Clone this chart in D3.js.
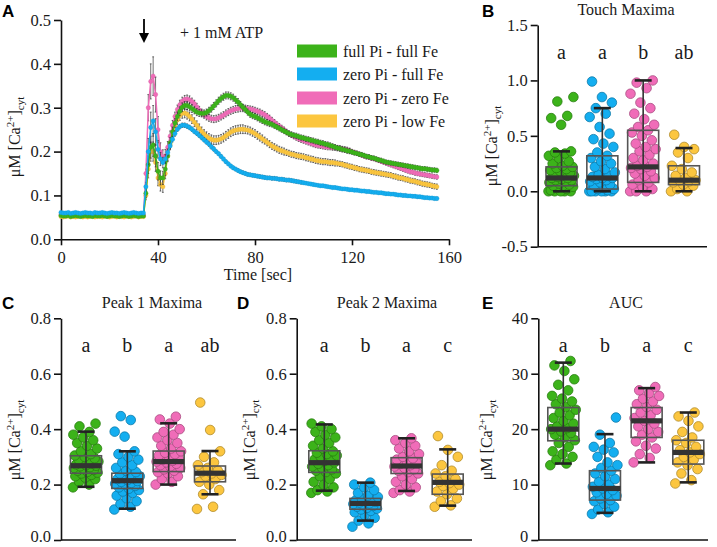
<!DOCTYPE html>
<html><head><meta charset="utf-8">
<script src="https://cdn.jsdelivr.net/npm/d3@7"></script>
<style>body{margin:0;background:#fff} svg{display:block}</style>
</head><body><svg id="chart" width="717" height="547"></svg>
<script>
// ---------------- DATA ----------------
const groups = ["full Pi - full Fe","zero Pi - full Fe","zero Pi - zero Fe","zero Pi - low Fe"];
const colors = ["#3cb31a","#14aef0","#f06cb8","#fcc63f"];
const timeSec = d3.range(0,156);
const timeTicks = [0,40,80,120,160];
const traceTicks = [0,0.1,0.2,0.3,0.4,0.5];

const traceGreen = [
.054,.053,.053,.054,.052,.053,.054,.053,.052,.053,
.054,.053,.053,.052,.054,.053,.053,.054,.053,.052,
.053,.054,.053,.053,.052,.053,.054,.053,.052,.053,
.054,.053,.052,.053,.053,.105,.17,.21,.215,.19,
.155,.14,.14,.16,.19,.22,.245,.265,.28,.292,
.301,.305,.305,.302,.298,.294,.29,.288,.287,.287,
.289,.293,.298,.304,.31,.316,.321,.325,.328,.328,
.326,.323,.318,.313,.307,.301,.296,.29,.285,.282,
.28,.277,.274,.271,.268,.266,.264,.262,.259,.256,
.253,.25,.247,.244,.241,.239,.237,.236,.234,.232,
.231,.229,.228,.226,.225,.223,.222,.22,.219,.217,
.216,.214,.212,.21,.208,.207,.205,.204,.202,.201,
.199,.197,.196,.194,.193,.191,.189,.188,.186,.185,
.183,.181,.18,.178,.176,.175,.174,.173,.172,.171,
.17,.169,.168,.167,.166,.165,.164,.163,.162,.161,
.161,.16,.159,.158,.158,.157];
const tracePink = [
.056,.055,.055,.056,.054,.055,.056,.055,.054,.055,
.056,.055,.055,.054,.056,.055,.055,.056,.055,.054,
.055,.056,.055,.055,.054,.055,.056,.055,.054,.055,
.056,.055,.054,.055,.055,.15,.3,.36,.372,.33,
.25,.2,.188,.19,.21,.235,.26,.28,.296,.307,
.315,.319,.32,.318,.314,.309,.302,.295,.289,.284,
.28,.277,.275,.274,.275,.277,.28,.283,.287,.29,
.293,.295,.297,.298,.299,.299,.299,.298,.297,.296,
.294,.292,.29,.287,.284,.28,.276,.271,.267,.262,
.258,.254,.25,.245,.241,.238,.235,.232,.229,.227,
.225,.223,.221,.219,.217,.215,.214,.213,.212,.211,
.21,.21,.209,.209,.208,.207,.206,.205,.204,.202,
.2,.198,.196,.194,.192,.19,.188,.187,.185,.184,
.182,.18,.178,.176,.174,.172,.17,.168,.166,.164,
.162,.16,.158,.156,.154,.153,.151,.15,.149,.148,
.147,.146,.145,.144,.143,.142];
const traceBlue = [
.061,.06,.06,.061,.059,.06,.061,.06,.059,.06,
.061,.06,.06,.059,.061,.06,.06,.061,.06,.059,
.06,.061,.06,.06,.059,.06,.061,.06,.059,.06,
.061,.06,.059,.06,.06,.12,.2,.255,.27,.245,
.205,.183,.175,.183,.198,.213,.228,.241,.251,.257,
.26,.26,.258,.255,.251,.246,.242,.237,.232,.227,
.222,.217,.211,.206,.2,.195,.189,.183,.177,.172,
.167,.163,.16,.157,.154,.152,.15,.148,.147,.146,
.145,.144,.143,.142,.141,.14,.14,.139,.139,.138,
.137,.137,.136,.135,.135,.134,.133,.132,.131,.13,
.129,.128,.127,.126,.125,.124,.123,.122,.122,.121,
.12,.119,.118,.118,.117,.116,.115,.115,.114,.113,
.113,.112,.112,.111,.11,.11,.109,.109,.108,.107,
.107,.106,.106,.105,.104,.104,.103,.103,.102,.101,
.101,.1,.1,.099,.099,.098,.098,.097,.097,.096,
.095,.095,.094,.094,.093,.093];
const traceYellow = [
.052,.051,.052,.053,.051,.052,.051,.052,.053,.051,
.052,.051,.052,.053,.051,.052,.052,.051,.053,.052,
.051,.052,.053,.051,.052,.052,.051,.053,.052,.051,
.052,.053,.051,.052,.052,.1,.16,.2,.2,.175,
.14,.125,.12,.15,.19,.215,.24,.258,.272,.282,
.287,.288,.285,.28,.274,.267,.26,.253,.246,.24,
.235,.231,.228,.226,.226,.227,.229,.232,.236,.24,
.244,.247,.249,.25,.251,.251,.25,.249,.247,.244,
.241,.237,.233,.229,.225,.221,.217,.213,.21,.207,
.204,.202,.2,.198,.196,.194,.193,.191,.19,.189,
.188,.186,.185,.183,.182,.18,.179,.178,.177,.177,
.176,.175,.175,.174,.173,.172,.171,.169,.168,.166,
.165,.163,.162,.16,.159,.158,.157,.156,.154,.153,
.152,.151,.15,.149,.148,.147,.146,.144,.143,.141,
.14,.139,.137,.136,.134,.133,.132,.13,.129,.127,
.126,.125,.124,.122,.121,.12];

const semGreen = [
.002,.002,.002,.002,.002,.002,.002,.002,.002,.002,
.002,.002,.002,.002,.002,.002,.002,.002,.002,.002,
.002,.002,.002,.002,.002,.002,.002,.002,.002,.002,
.002,.002,.002,.002,.002,.01,.02,.025,.026,.025,
.02,.016,.015,.015,.013,.012,.011,.01,.01,.01,
.01,.009,.009,.009,.009,.008,.008,.008,.008,.008,
.008,.008,.008,.008,.008,.008,.008,.008,.008,.008,
.008,.008,.008,.008,.007,.007,.007,.007,.007,.007,
.007,.007,.007,.007,.007,.007,.007,.006,.006,.006,
.006,.006,.006,.006,.006,.006,.006,.006,.006,.006,
.006,.006,.006,.006,.006,.006,.006,.006,.006,.006,
.006,.006,.006,.006,.006,.006,.006,.006,.006,.006,
.005,.005,.005,.005,.005,.005,.005,.005,.005,.005,
.005,.005,.005,.005,.005,.005,.005,.005,.005,.005,
.005,.005,.005,.005,.005,.005,.005,.005,.005,.005,
.005,.005,.005,.005,.005,.005];
const semPink = [
.002,.002,.002,.002,.002,.002,.002,.002,.002,.002,
.002,.002,.002,.002,.002,.002,.002,.002,.002,.002,
.002,.002,.002,.002,.002,.002,.002,.002,.002,.002,
.002,.002,.002,.002,.002,.01,.03,.04,.044,.04,
.03,.02,.016,.015,.013,.012,.011,.01,.01,.01,
.009,.009,.009,.009,.008,.008,.008,.008,.008,.008,
.008,.008,.008,.008,.008,.008,.008,.008,.008,.008,
.008,.008,.008,.008,.008,.008,.007,.007,.007,.007,
.007,.007,.007,.007,.007,.007,.007,.007,.006,.006,
.006,.006,.006,.006,.006,.006,.006,.006,.006,.006,
.006,.006,.006,.006,.006,.006,.006,.006,.006,.006,
.006,.006,.006,.006,.006,.006,.006,.006,.006,.006,
.005,.005,.005,.005,.005,.005,.005,.005,.005,.005,
.005,.005,.005,.005,.005,.005,.005,.005,.005,.005,
.005,.005,.005,.005,.005,.005,.005,.005,.005,.005,
.005,.005,.005,.005,.005,.005];
const semBlue = [
.002,.002,.002,.002,.002,.002,.002,.002,.002,.002,
.002,.002,.002,.002,.002,.002,.002,.002,.002,.002,
.002,.002,.002,.002,.002,.002,.002,.002,.002,.002,
.002,.002,.002,.002,.002,.01,.03,.035,.035,.03,
.02,.015,.012,.01,.008,.007,.006,.006,.005,.005,
.005,.005,.005,.005,.005,.005,.005,.005,.005,.005,
.005,.005,.005,.005,.004,.004,.004,.004,.004,.004,
.004,.004,.004,.004,.004,.004,.004,.004,.004,.004,
.004,.004,.004,.004,.004,.004,.004,.004,.004,.004,
.004,.004,.004,.004,.004,.004,.004,.004,.004,.004,
.003,.003,.003,.003,.003,.003,.003,.003,.003,.003,
.003,.003,.003,.003,.003,.003,.003,.003,.003,.003,
.003,.003,.003,.003,.003,.003,.003,.003,.003,.003,
.003,.003,.003,.003,.003,.003,.003,.003,.003,.003,
.003,.003,.003,.003,.003,.003,.003,.003,.003,.003,
.003,.003,.003,.003,.003,.003];
const semYellow = [
.002,.002,.002,.002,.002,.002,.002,.002,.002,.002,
.002,.002,.002,.002,.002,.002,.002,.002,.002,.002,
.002,.002,.002,.002,.002,.002,.002,.002,.002,.002,
.002,.002,.002,.002,.002,.01,.02,.022,.022,.02,
.018,.015,.013,.012,.011,.011,.011,.011,.011,.011,
.011,.011,.011,.01,.01,.01,.01,.01,.01,.01,
.01,.01,.01,.01,.01,.01,.01,.01,.01,.01,
.01,.01,.01,.01,.01,.01,.009,.009,.009,.009,
.009,.009,.009,.009,.008,.008,.008,.008,.008,.008,
.008,.008,.008,.007,.007,.007,.007,.007,.007,.007,
.007,.007,.007,.007,.007,.007,.007,.007,.007,.007,
.007,.007,.007,.007,.006,.006,.006,.006,.006,.006,
.006,.006,.006,.006,.006,.006,.006,.006,.006,.006,
.006,.006,.006,.006,.006,.006,.006,.006,.006,.006,
.006,.006,.006,.006,.006,.006,.006,.006,.006,.006,
.006,.006,.006,.006,.006,.006];

// Touch maxima (B)
const touchGreen = [0,0,0,0,0,0.01,0.02,0.03,0.04,0.05,0.05,0.06,0.07,0.08,0.09,0.1,0.1,0.11,0.12,0.12,0.13,0.14,0.15,0.16,0.17,0.18,0.19,0.2,0.21,0.22,0.23,0.25,0.27,0.3,0.32,0.34,0.35,0.36,0.6,0.66,0.68,0.81,0.85];
const touchBlue = [0,0,0,0,0,0,0.01,0.02,0.02,0.03,0.05,0.06,0.08,0.09,0.1,0.11,0.12,0.12,0.13,0.14,0.15,0.17,0.2,0.22,0.25,0.27,0.3,0.32,0.35,0.4,0.43,0.47,0.52,0.58,0.67,0.7,0.75,0.8,0.85,0.99];
const touchPink = [0,0,0,0.02,0.04,0.06,0.08,0.1,0.12,0.14,0.16,0.18,0.2,0.21,0.22,0.23,0.25,0.28,0.3,0.33,0.36,0.38,0.4,0.43,0.46,0.5,0.53,0.55,0.58,0.6,0.65,0.7,0.75,0.8,0.88,0.93,0.98,1.0];
const touchYellow = [0,0,0.02,0.05,0.06,0.08,0.09,0.1,0.1,0.12,0.14,0.17,0.2,0.23,0.3,0.35,0.38,0.4,0.51];
// [q1, median, q3, whiskerLow, whiskerHigh]
const touchStats = [[0.05,0.12,0.22,0,0.36],[0.02,0.12,0.32,0,0.75],[0.08,0.22,0.55,0,1.0],[0.06,0.1,0.23,0,0.39]];
const touchLetters = ["a","a","b","ab"];
const touchTicks = [-0.5,0,0.5,1.0,1.5];

// Peak 1 maxima (C)
const peak1Green = [0.19,0.2,0.21,0.22,0.225,0.23,0.235,0.24,0.243,0.246,0.25,0.253,0.256,0.26,0.263,0.266,0.268,0.27,0.273,0.276,0.28,0.283,0.287,0.29,0.295,0.3,0.305,0.31,0.32,0.33,0.34,0.35,0.36,0.37,0.38,0.39,0.41,0.42];
const peak1Blue = [0.11,0.12,0.13,0.14,0.15,0.16,0.17,0.175,0.18,0.185,0.19,0.195,0.2,0.203,0.206,0.21,0.213,0.216,0.22,0.223,0.226,0.23,0.235,0.24,0.245,0.25,0.26,0.27,0.28,0.29,0.3,0.31,0.32,0.373,0.391,0.433,0.447];
const peak1Pink = [0.2,0.21,0.22,0.23,0.24,0.245,0.25,0.255,0.26,0.265,0.27,0.275,0.28,0.283,0.286,0.29,0.295,0.3,0.305,0.31,0.315,0.32,0.33,0.34,0.35,0.36,0.37,0.38,0.39,0.4,0.42,0.435,0.445];
const peak1Yellow = [0.112,0.12,0.165,0.18,0.2,0.21,0.22,0.23,0.235,0.24,0.245,0.25,0.26,0.27,0.28,0.3,0.32,0.397,0.496];
const peak1Stats = [[0.241,0.268,0.304,0.192,0.391],[0.186,0.214,0.241,0.113,0.32],[0.247,0.283,0.321,0.2,0.421],[0.21,0.241,0.267,0.165,0.321]];
const peak1Letters = ["a","b","a","ab"];

// Peak 2 maxima (D)
const peak2Green = [0.17,0.175,0.18,0.19,0.2,0.21,0.22,0.23,0.24,0.245,0.25,0.255,0.26,0.265,0.27,0.275,0.28,0.285,0.29,0.295,0.3,0.305,0.31,0.315,0.32,0.33,0.34,0.35,0.36,0.37,0.38,0.39,0.4,0.41,0.42];
const peak2Blue = [0.048,0.06,0.07,0.08,0.09,0.1,0.105,0.11,0.113,0.116,0.12,0.123,0.126,0.13,0.132,0.135,0.138,0.14,0.143,0.146,0.15,0.155,0.16,0.17,0.18,0.19,0.2,0.207];
const peak2Pink = [0.17,0.175,0.18,0.19,0.2,0.21,0.22,0.23,0.24,0.245,0.25,0.255,0.26,0.265,0.27,0.275,0.28,0.285,0.29,0.295,0.3,0.31,0.32,0.33,0.34,0.35,0.36,0.367];
const peak2Yellow = [0.12,0.125,0.14,0.15,0.165,0.175,0.185,0.195,0.2,0.205,0.21,0.22,0.23,0.24,0.25,0.27,0.3,0.325,0.375];
const peak2Stats = [[0.244,0.279,0.322,0.178,0.417],[0.111,0.132,0.15,0.07,0.207],[0.24,0.267,0.297,0.177,0.367],[0.165,0.208,0.238,0.124,0.327]];
const peak2Letters = ["a","b","a","c"];
const peakTicks = [0,0.2,0.4,0.6,0.8];

// AUC (E)
const aucGreen = [13.5,13.8,14.5,15,15.5,16,16.8,17.5,18,18.5,19,19.3,19.6,20,20.2,20.5,21,21.5,22,22.5,23,23.5,24,24.5,25,25.5,26,27,28,29,30.5,31.5,32.3];
const aucBlue = [4.7,5,5.5,6,6.5,7,7.2,7.5,8,8.3,8.6,9,9.3,9.6,10,10.5,11,11.5,12,12.5,13,13.5,14,15,15.8,16.3,16.8,17.5,19,22.1];
const aucPink = [14,14.8,15.5,16.5,17,17.8,18.5,19,19.5,20,20.5,21,21.5,22,22.5,23,23.5,24,24.5,25,25.5,26,26.5,27,27.6];
const aucYellow = [10.2,10.8,12,12.8,13.5,14,14.5,15,15.5,15.8,16.2,16.8,17.5,18,18.5,19.5,20.5,21.5,22.3,23];
const aucStats = [[17.9,20,23.9,13.8,32.0],[7.2,9.3,12.5,4.9,19.1],[18.5,21.5,23.9,14,27.4],[13.7,15.8,18,10.4,23]];
const aucLetters = ["a","b","a","c"];
const aucTicks = [0,10,20,30,40];

// ---------------- DRAWING ----------------
const SERIF = "'Liberation Serif','Times New Roman',serif";
const SANS = "'Liberation Sans',Arial,sans-serif";
const svg = d3.select("#chart");

function styleAxis(g, fs) {
  g.attr("font-family", null);
  g.selectAll("path.domain").attr("stroke","#111").attr("stroke-width",1.6);
  g.selectAll(".tick line").attr("stroke","#111").attr("stroke-width",1.6);
  g.selectAll(".tick text").attr("font-family",SERIF).attr("font-size",fs).attr("fill","#1a1a1a");
}
function yLabel(x, y) {
  const t = svg.append("text").attr("transform",`translate(${x},${y}) rotate(-90)`)
    .attr("text-anchor","middle").attr("font-family",SERIF).attr("font-size",16).attr("fill","#1a1a1a");
  t.append("tspan").text("μM [Ca");
  t.append("tspan").attr("font-size",11).attr("dy",-6).text("2+");
  t.append("tspan").attr("dy",6).text("]");
  t.append("tspan").attr("font-size",11).attr("dy",4).text("cyt");
}
function panelLetter(s, x, y) {
  svg.append("text").attr("x",x).attr("y",y).attr("font-family",SANS).attr("font-weight","bold")
    .attr("font-size",17).attr("fill","#000").text(s);
}

// ---- Panel A ----
const xA = d3.scaleLinear().domain([0,160]).range([61,449]);
const yA = d3.scaleLinear().domain([0,0.5]).range([239.3,20]);
const axA = svg.append("g").attr("transform","translate(0,239.3)")
  .call(d3.axisBottom(xA).tickValues(timeTicks).tickFormat(d3.format("d")).tickSize(6).tickSizeOuter(0).tickPadding(6));
styleAxis(axA, 16.5);
const ayA = svg.append("g").attr("transform","translate(61,0)")
  .call(d3.axisLeft(yA).tickValues(traceTicks).tickFormat(d=>d.toFixed(1)).tickSize(7).tickSizeOuter(0).tickPadding(3));
styleAxis(ayA, 16.5);
svg.append("text").attr("x",258).attr("y",280).attr("text-anchor","middle").attr("font-family",SERIF)
  .attr("font-size",16).attr("fill","#1a1a1a").text("Time [sec]");
yLabel(20, 137);
panelLetter("A", 2, 17);

const traces = [traceGreen, traceBlue, tracePink, traceYellow];
const sems = [semGreen, semBlue, semPink, semYellow];
const drawOrder = [3, 2, 0, 1];
const lineGen = d3.line().x((d,i)=>xA(timeSec[i])).y(d=>yA(d));
drawOrder.forEach(k => {
  const g = svg.append("g");
  const vals = traces[k], err = sems[k];
  g.selectAll("line.err").data(vals).join("line").attr("class","err")
    .attr("x1",(d,i)=>xA(timeSec[i])).attr("x2",(d,i)=>xA(timeSec[i]))
    .attr("y1",(d,i)=>yA(d-err[i])).attr("y2",(d,i)=>yA(d+err[i]))
    .attr("stroke","#333").attr("stroke-width",0.7);
  g.selectAll("line.cap").data(vals.flatMap((d,i)=>[[i,d+err[i]],[i,d-err[i]]])).join("line").attr("class","cap")
    .attr("x1",d=>xA(timeSec[d[0]])-0.9).attr("x2",d=>xA(timeSec[d[0]])+0.9)
    .attr("y1",d=>yA(d[1])).attr("y2",d=>yA(d[1]))
    .attr("stroke","#333").attr("stroke-width",0.7);
  g.append("path").datum(vals).attr("d",lineGen).attr("fill","none").attr("stroke",colors[k]).attr("stroke-width",1.5);
  g.selectAll("circle").data(vals).join("circle")
    .attr("cx",(d,i)=>xA(timeSec[i])).attr("cy",d=>yA(d)).attr("r",2.2)
    .attr("fill",colors[k]).attr("stroke",d3.color(colors[k]).darker(0.4)).attr("stroke-width",0.3);
});

// legend
const legY = [51,74,98,121];
groups.forEach((name,i)=>{
  svg.append("rect").attr("x",297).attr("y",legY[i]-6.5).attr("width",40).attr("height",13).attr("fill",colors[i]);
  svg.append("text").attr("x",343).attr("y",legY[i]+5.5).attr("font-family",SERIF).attr("font-size",16)
    .attr("fill","#1a1a1a").text(name);
});
// arrow + annotation
svg.append("line").attr("x1",144).attr("x2",144).attr("y1",19).attr("y2",36).attr("stroke","#000").attr("stroke-width",1.8);
svg.append("path").attr("d","M139,33 L149,33 L144,43 Z").attr("fill","#000");
svg.append("text").attr("x",180).attr("y",37.5).attr("font-family",SERIF).attr("font-size",16)
  .attr("fill","#1a1a1a").text("+ 1 mM ATP");

// ---- Box panels ----
function boxPanel(cfg) {
  const xs = d3.scalePoint().domain(groups).range(cfg.centers);
  const y = cfg.y;
  const ay = svg.append("g").attr("transform",`translate(${cfg.x0},0)`)
    .call(d3.axisLeft(y).tickValues(cfg.ticks).tickFormat(cfg.fmt).tickSize(7).tickSizeOuter(0).tickPadding(3));
  styleAxis(ay, 16.5);
  ay.selectAll(".tick text").attr("dy",(d,i)=> i===0 && cfg.ticks[0]===0 ? "0.12em" : "0.32em");
  svg.append("line").attr("x1",cfg.x0).attr("x2",cfg.x1).attr("y1",y.range()[0]).attr("y2",y.range()[0])
    .attr("stroke","#111").attr("stroke-width",1.6);
  const g = svg.append("g");
  cfg.series.forEach((vals,k)=>{
    const cx = xs(groups[k]);
    g.append("g").selectAll("circle").data(vals).join("circle")
      .attr("cx",(d,i)=>cx + (((i*0.618034) % 1) - 0.5) * 26)
      .attr("cy",d=>y(d)).attr("r",4.8)
      .attr("fill",colors[k]).attr("stroke",d3.color(colors[k]).darker(1.0)).attr("stroke-width",0.8);
  });
  cfg.stats.forEach((s,k)=>{
    const cx = xs(groups[k]);
    const [q1,med,q3,lo,hi] = s;
    g.append("line").attr("x1",cx).attr("x2",cx).attr("y1",y(lo)).attr("y2",y(hi)).attr("stroke","#333").attr("stroke-width",1.6);
    g.append("rect").attr("x",cx-15.5).attr("width",31).attr("y",y(q3)).attr("height",y(q1)-y(q3))
      .attr("fill","none").attr("stroke","#555").attr("stroke-width",1.6);
    [lo,hi].forEach(v=>g.append("line").attr("x1",cx-8.5).attr("x2",cx+8.5).attr("y1",y(v)).attr("y2",y(v))
      .attr("stroke","#222").attr("stroke-width",2.6));
    g.append("rect").attr("x",cx-15.5).attr("width",31).attr("y",y(med)-2.6).attr("height",5.2).attr("fill","#333");
    svg.append("text").attr("x",cx).attr("y",cfg.letterY).attr("text-anchor","middle").attr("font-family",SERIF)
      .attr("font-size",20).attr("fill","#1a1a1a").text(cfg.letters[k]);
  });
  svg.append("text").attr("x",cfg.titleX).attr("y",cfg.titleY).attr("text-anchor","middle").attr("font-family",SERIF)
    .attr("font-size",16).attr("fill","#1a1a1a").text(cfg.title);
  yLabel(cfg.labelX, cfg.labelY);
  panelLetter(cfg.letter, cfg.letterX, cfg.letterBase);
}

boxPanel({x0:537.7, x1:707, y:d3.scaleLinear().domain([-0.5,1.5]).range([246.7,25]),
  centers:[561.5,684], series:[touchGreen,touchBlue,touchPink,touchYellow], stats:touchStats,
  letters:touchLetters, ticks:touchTicks, fmt:d=>d.toFixed(1), letterY:59, title:"Touch Maxima",
  titleX:626, titleY:14.5, labelX:497, labelY:146, letter:"B", letterX:482, letterBase:17});

boxPanel({x0:61, x1:236, y:d3.scaleLinear().domain([0,0.8]).range([540,318.3]),
  centers:[86,210], series:[peak1Green,peak1Blue,peak1Pink,peak1Yellow], stats:peak1Stats,
  letters:peak1Letters, ticks:peakTicks, fmt:d=>d.toFixed(1), letterY:352, title:"Peak 1 Maxima",
  titleX:152, titleY:308, labelX:20, labelY:440, letter:"C", letterX:2, letterBase:309});

boxPanel({x0:296.7, x1:472, y:d3.scaleLinear().domain([0,0.8]).range([540,318.3]),
  centers:[324.3,447.7], series:[peak2Green,peak2Blue,peak2Pink,peak2Yellow], stats:peak2Stats,
  letters:peak2Letters, ticks:peakTicks, fmt:d=>d.toFixed(1), letterY:352, title:"Peak 2 Maxima",
  titleX:387, titleY:308, labelX:255, labelY:440, letter:"D", letterX:237, letterBase:309});

boxPanel({x0:538.3, x1:708, y:d3.scaleLinear().domain([0,40]).range([540,318.3]),
  centers:[563.3,688.3], series:[aucGreen,aucBlue,aucPink,aucYellow], stats:aucStats,
  letters:aucLetters, ticks:aucTicks, fmt:d3.format("d"), letterY:352, title:"AUC",
  titleX:626, titleY:308, labelX:492, labelY:440, letter:"E", letterX:482, letterBase:309});
</script>
</body></html>
